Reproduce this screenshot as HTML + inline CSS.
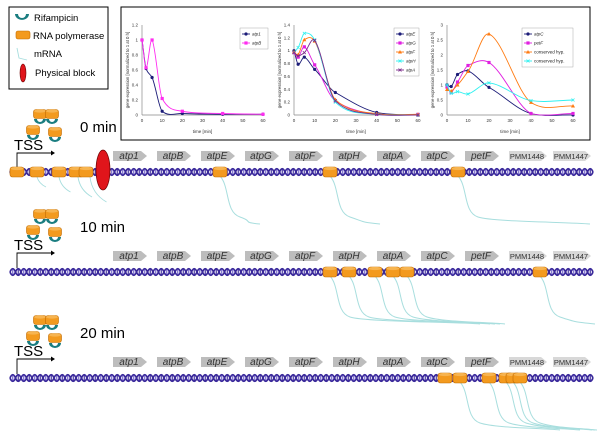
<!DOCTYPE html>
<html><head><meta charset="utf-8"><style>
body{margin:0;background:#fff;}
svg{display:block;font-family:"Liberation Sans",sans-serif;}
</style></head><body>
<svg id="fig" width="600" height="441" viewBox="0 0 600 441">
<g id="legend-box">
<rect x="9" y="7" width="99" height="82" fill="#fff" stroke="#000" stroke-width="1"/>
<path d="M15,14 A6,5 0 0 0 29,14 L26,14 A3,3 0 0 1 18,14 Z" fill="#1a7d80"/>
<text x="34" y="21" font-size="9.5">Rifampicin</text>
<rect x="16" y="31" width="14" height="8" rx="2" fill="#f39a1e" stroke="#c06a00" stroke-width="0.6"/>
<text x="33" y="39" font-size="9.5">RNA polymerase</text>
<path d="M17,48 L19,58 L27,60" stroke="#a8dede" fill="none" stroke-width="0.9"/>
<text x="34" y="57" font-size="9.5">mRNA</text>
<ellipse cx="23" cy="73" rx="3" ry="9" fill="#e0151b" stroke="#6a0000" stroke-width="0.6"/>
<text x="35" y="76" font-size="9.5">Physical block</text>
</g>
<rect x="121" y="7" width="469" height="133" fill="#fff" stroke="#000" stroke-width="1"/>
<g id="charts"></g>
<g id="rows"></g>
</svg>
<script>
// ---- chart data ----
const times = [0, 2, 5, 10, 20, 40, 60];
const xTicks = [0, 10, 20, 30, 40, 50, 60];
const p1Ticks = [0, 0.2, 0.4, 0.6, 0.8, 1, 1.2];
const p2Ticks = [0, 0.2, 0.4, 0.6, 0.8, 1, 1.2, 1.4];
const p3Ticks = [0, 0.5, 1, 1.5, 2, 2.5, 3];
const atp1 = [1, 0.62, 0.5, 0.05, 0.02, 0.01, 0.01];
const atpB = [1, 0.63, 1, 0.22, 0.05, 0.02, 0.01];
const atpE = [1, 0.79, 0.9, 0.71, 0.35, 0.04, 0];
const atpG = [0.97, 0.9, 1.06, 0.78, 0.22, 0.01, 0.01];
const atpF = [0.98, 0.94, 1.17, 1.15, 0.24, 0.02, 0.01];
const atpH = [0.97, 1.05, 1.27, 1.17, 0.2, 0.01, 0];
const atpA = [0.97, 0.92, 0.97, 1.16, 0.22, 0.01, 0];
const atpC = [1, 0.95, 1.35, 1.47, 0.92, 0.05, 0];
const petF = [0.93, 0.75, 1.1, 1.65, 1.75, 0.05, 0.05];
const consHyp1 = [0.85, 0.8, 1.0, 1.45, 2.7, 0.42, 0.3];
const consHyp2 = [1.0, 0.72, 0.78, 0.7, 1.07, 0.48, 0.5];

const NS = "http://www.w3.org/2000/svg";
function mk(tag, attrs, parent){const e=document.createElementNS(NS,tag);for(const k in attrs)e.setAttribute(k,attrs[k]);parent.appendChild(e);return e;}
const charts = document.getElementById('charts');

const panels = [
 {x0:142,x1:263,ymax:1.2,ticks:p1Ticks,leg:[240,28,28],series:[['atp1',atp1,'#1c1c78','dot'],['atpB',atpB,'#ff2cf0','sq']]},
 {x0:294,x1:418,ymax:1.4,ticks:p2Ticks,leg:[394,28,25],series:[['atpE',atpE,'#1c1c78','dot'],['atpG',atpG,'#e020e0','sq'],['atpF',atpF,'#ff7a10','tri'],['atpH',atpH,'#30f0f0','x'],['atpA',atpA,'#7a2a8a','x']]},
 {x0:447,x1:573,ymax:3,ticks:p3Ticks,leg:[522,28,51],series:[['atpC',atpC,'#1c1c78','dot'],['petF',petF,'#e020e0','sq'],['conserved hyp.',consHyp1,'#ff7a10','tri'],['conserved hyp.',consHyp2,'#30f0f0','x']]}
];
const yT=25, yB=115;
panels.forEach((p,pi)=>{
  const g=mk('g',{},charts);
  
  
  const sx=t=>p.x0+(t/60)*(p.x1-p.x0);
  const sy=v=>yB-(v/p.ymax)*(yB-yT);
  mk('line',{x1:p.x0,y1:yT,x2:p.x0,y2:yB,stroke:'#888','stroke-width':0.7},g);
  mk('line',{x1:p.x0,y1:yB,x2:p.x1,y2:yB,stroke:'#888','stroke-width':0.7},g);
  p.ticks.forEach(t=>{const tx=mk('text',{x:p.x0-4,y:sy(t)+1.5,'font-size':4.5,'text-anchor':'end',fill:'#333'},g);tx.textContent=t;});
  xTicks.forEach(t=>{const tx=mk('text',{x:sx(t),y:yB+7,'font-size':4.5,'text-anchor':'middle',fill:'#333'},g);tx.textContent=t;});
  const xl=mk('text',{x:(p.x0+p.x1)/2,y:yB+18,'font-size':4.5,'text-anchor':'middle',fill:'#333'},g);xl.textContent='time [min]';
  const yl=mk('text',{x:0,y:0,'font-size':4.3,'text-anchor':'middle',fill:'#333',transform:`translate(${p.x0-13},${(yT+yB)/2}) rotate(-90)`},g);yl.textContent='gene expression [normalized to 1 at 0 h]';
  p.series.forEach(([name,vals,col,mkType])=>{
    const pts=times.map((t,i)=>[sx(t),sy(vals[i])]);
    const n=pts.length;
    const slope=i=>{const a=pts[Math.max(0,i-1)],c=pts[Math.min(n-1,i+1)];return (c[1]-a[1])/(c[0]-a[0]);};
    let d='M'+pts[0][0]+','+pts[0][1];
    for(let i=0;i<n-1;i++){const p1=pts[i],p2=pts[i+1],dx=(p2[0]-p1[0])/3;
      const c1=[p1[0]+dx,p1[1]+slope(i)*dx*0.8],c2=[p2[0]-dx,p2[1]-slope(i+1)*dx*0.8];
      d+=` C${c1[0]},${Math.min(yB+2,c1[1])} ${c2[0]},${Math.min(yB+2,c2[1])} ${p2[0]},${p2[1]}`;}
    const path=mk('path',{d:d,fill:'none',stroke:col,'stroke-width':0.9},g);
    
    
    pts.forEach(q=>drawMarker(g,q[0],q[1],col,mkType));
  });
  const [lx,ly,lw]=p.leg;
  mk('rect',{x:lx,y:ly,width:lw,height:p.series.length*9+3,fill:'#fff',stroke:'#999','stroke-width':0.4},g);
  p.series.forEach(([name,vals,col,mkType],i)=>{
    const yy=ly+6+i*9;
    mk('line',{x1:lx+2,y1:yy,x2:lx+10,y2:yy,stroke:col,'stroke-width':0.9},g);
    drawMarker(g,lx+6,yy,col,mkType);
    const t=mk('text',{x:lx+12,y:yy+1.6,'font-size':4.5,fill:'#222','font-style':name.startsWith('atp')||name==='petF'?'italic':'normal'},g);
    t.textContent=name;
    
    
  });
});
function drawMarker(g,x,y,col,t){
  if(t==='dot')mk('circle',{cx:x,cy:y,r:1.6,fill:col},g);
  else if(t==='sq')mk('rect',{x:x-1.6,y:y-1.6,width:3.2,height:3.2,fill:col},g);
  else if(t==='tri')mk('path',{d:`M${x},${y-2} L${x+2},${y+1.5} L${x-2},${y+1.5}Z`,fill:col},g);
  else mk('path',{d:`M${x-1.5},${y-1.5}L${x+1.5},${y+1.5}M${x+1.5},${y-1.5}L${x-1.5},${y+1.5}`,stroke:col,'stroke-width':0.8},g);
}

// ---- diagram rows ----
const genes=['atp1','atpB','atpE','atpG','atpF','atpH','atpA','atpC','petF','PMM1448','PMM1447'];
const rowsG=document.getElementById('rows');
const rows=[
 {dna:172,label:'0 min',polys:[17,37,59,76,86,220,330,458],block:true,mrna:[[220,260],[330,380],[458,590]],shortM:[[37,20],[59,30],[78,40],[90,50]]},
 {dna:272,label:'10 min',polys:[330,349,375,393,407,540],block:false,mrna:[[330,480],[349,490],[375,495],[393,500],[407,505],[540,595]]},
 {dna:378,label:'20 min',polys:[445,460,489,506,513,520],block:false,mrna:[[460,560],[489,580],[506,592],[513,595],[520,597]]}
];
function poly(g,x,y,w=13,h=9){
  mk('rect',{x:x-w/2,y:y-h/2,width:w,height:h,rx:2.5,fill:'#f39a1e',stroke:'#c06a00','stroke-width':0.6},g);
  mk('ellipse',{cx:x,cy:y-h/2+1.5,rx:w/2-0.5,ry:1.6,fill:'#f7b450'},g);
}
function rif(g,x,y){mk('path',{d:`M${x-6},${y} A6,5 0 0 0 ${x+6},${y} L${x+3},${y} A3,3 0 0 1 ${x-3},${y} Z`,fill:'#1a7d80'},g);}
function helix(g,b){
  let d1='',d2='';
  const per=11, a=6.5;
  for(let x=10;x<590;x+=per){
    d1+=`M${x},${b} Q${x+per/4},${b-a} ${x+per/2},${b} Q${x+3*per/4},${b+a} ${x+per},${b} `;
    d2+=`M${x},${b} Q${x+per/4},${b+a} ${x+per/2},${b} Q${x+3*per/4},${b-a} ${x+per},${b} `;
  }
  mk('path',{d:d1,stroke:'#3b2a9b','stroke-width':1.7,fill:'none'},g);
  mk('path',{d:d2,stroke:'#3b2a9b','stroke-width':1.7,fill:'none'},g);
  for(let x=10;x<590;x+=per){
    mk('line',{x1:x+per/4,y1:b-2.5,x2:x+per/4,y2:b+2.5,stroke:'#6a5ac8','stroke-width':1.1},g);
    mk('line',{x1:x+3*per/4,y1:b-2.5,x2:x+3*per/4,y2:b+2.5,stroke:'#3b2a9b','stroke-width':1.1},g);
  }
}
rows.forEach((r,ri)=>{
  const g=mk('g',{},rowsG);
  
  
  const b=r.dna;
  const cl=[[40,b-58],[52,b-58],[33,b-42],[55,b-40]];
  cl.forEach(([x,y])=>{rif(g,x,y+5);poly(g,x,y);});
  const lt=mk('text',{x:80,y:b-40,'font-size':15,fill:'#000'},g);lt.textContent=r.label;
  const ts=mk('text',{x:14,y:b-22,'font-size':15,fill:'#000'},g);ts.textContent='TSS';
  mk('path',{d:`M17,${b-4} L17,${b-19} L54,${b-19}`,stroke:'#000',fill:'none','stroke-width':0.9},g);
  mk('path',{d:`M51,${b-21.5} L55,${b-19} L51,${b-16.5}Z`,fill:'#000'},g);
  genes.forEach((gn,i)=>{
    const gx=113+44*i, gy=b-21;
    const isP=gn.startsWith('PMM');
    const ar=mk('path',{d:`M${gx},${gy} h${isP?32:28} l6,5 l-6,5 h-${isP?32:28}Z`,fill:isP?'#d8d8d8':'#bdbdbd'},g);
    
    
    const t=mk('text',{x:gx+(isP?18:16),y:gy+8,'font-size':isP?7.5:10,'text-anchor':'middle','font-style':isP?'normal':'italic',fill:'#333'},g);
    t.textContent=gn;
  });
  const dg=mk('g',{},g);
  
  
  helix(dg,b);
  (r.shortM||[]).forEach(([x,l])=>mk('path',{d:`M${x},${b+5} q2,${l/3} ${l/4+4},${l/2}`,stroke:'#a8dede',fill:'none','stroke-width':0.9},g));
  r.mrna.forEach(([x,ex])=>mk('path',{d:`M${x},${b+4} C${x+10},${b+15} ${x+5},${b+40} ${x+20},${b+45} S${ex-20},${b+50} ${ex},${b+52}`,stroke:'#a8dede',fill:'none','stroke-width':1},g));
  r.polys.forEach(x=>poly(g,x,b,14,10));
  if(r.block){const e=mk('ellipse',{cx:103,cy:b-2,rx:7,ry:20,fill:'#e0151b',stroke:'#6a0000','stroke-width':0.7},g);
    
    }
});
</script>
</body></html>
